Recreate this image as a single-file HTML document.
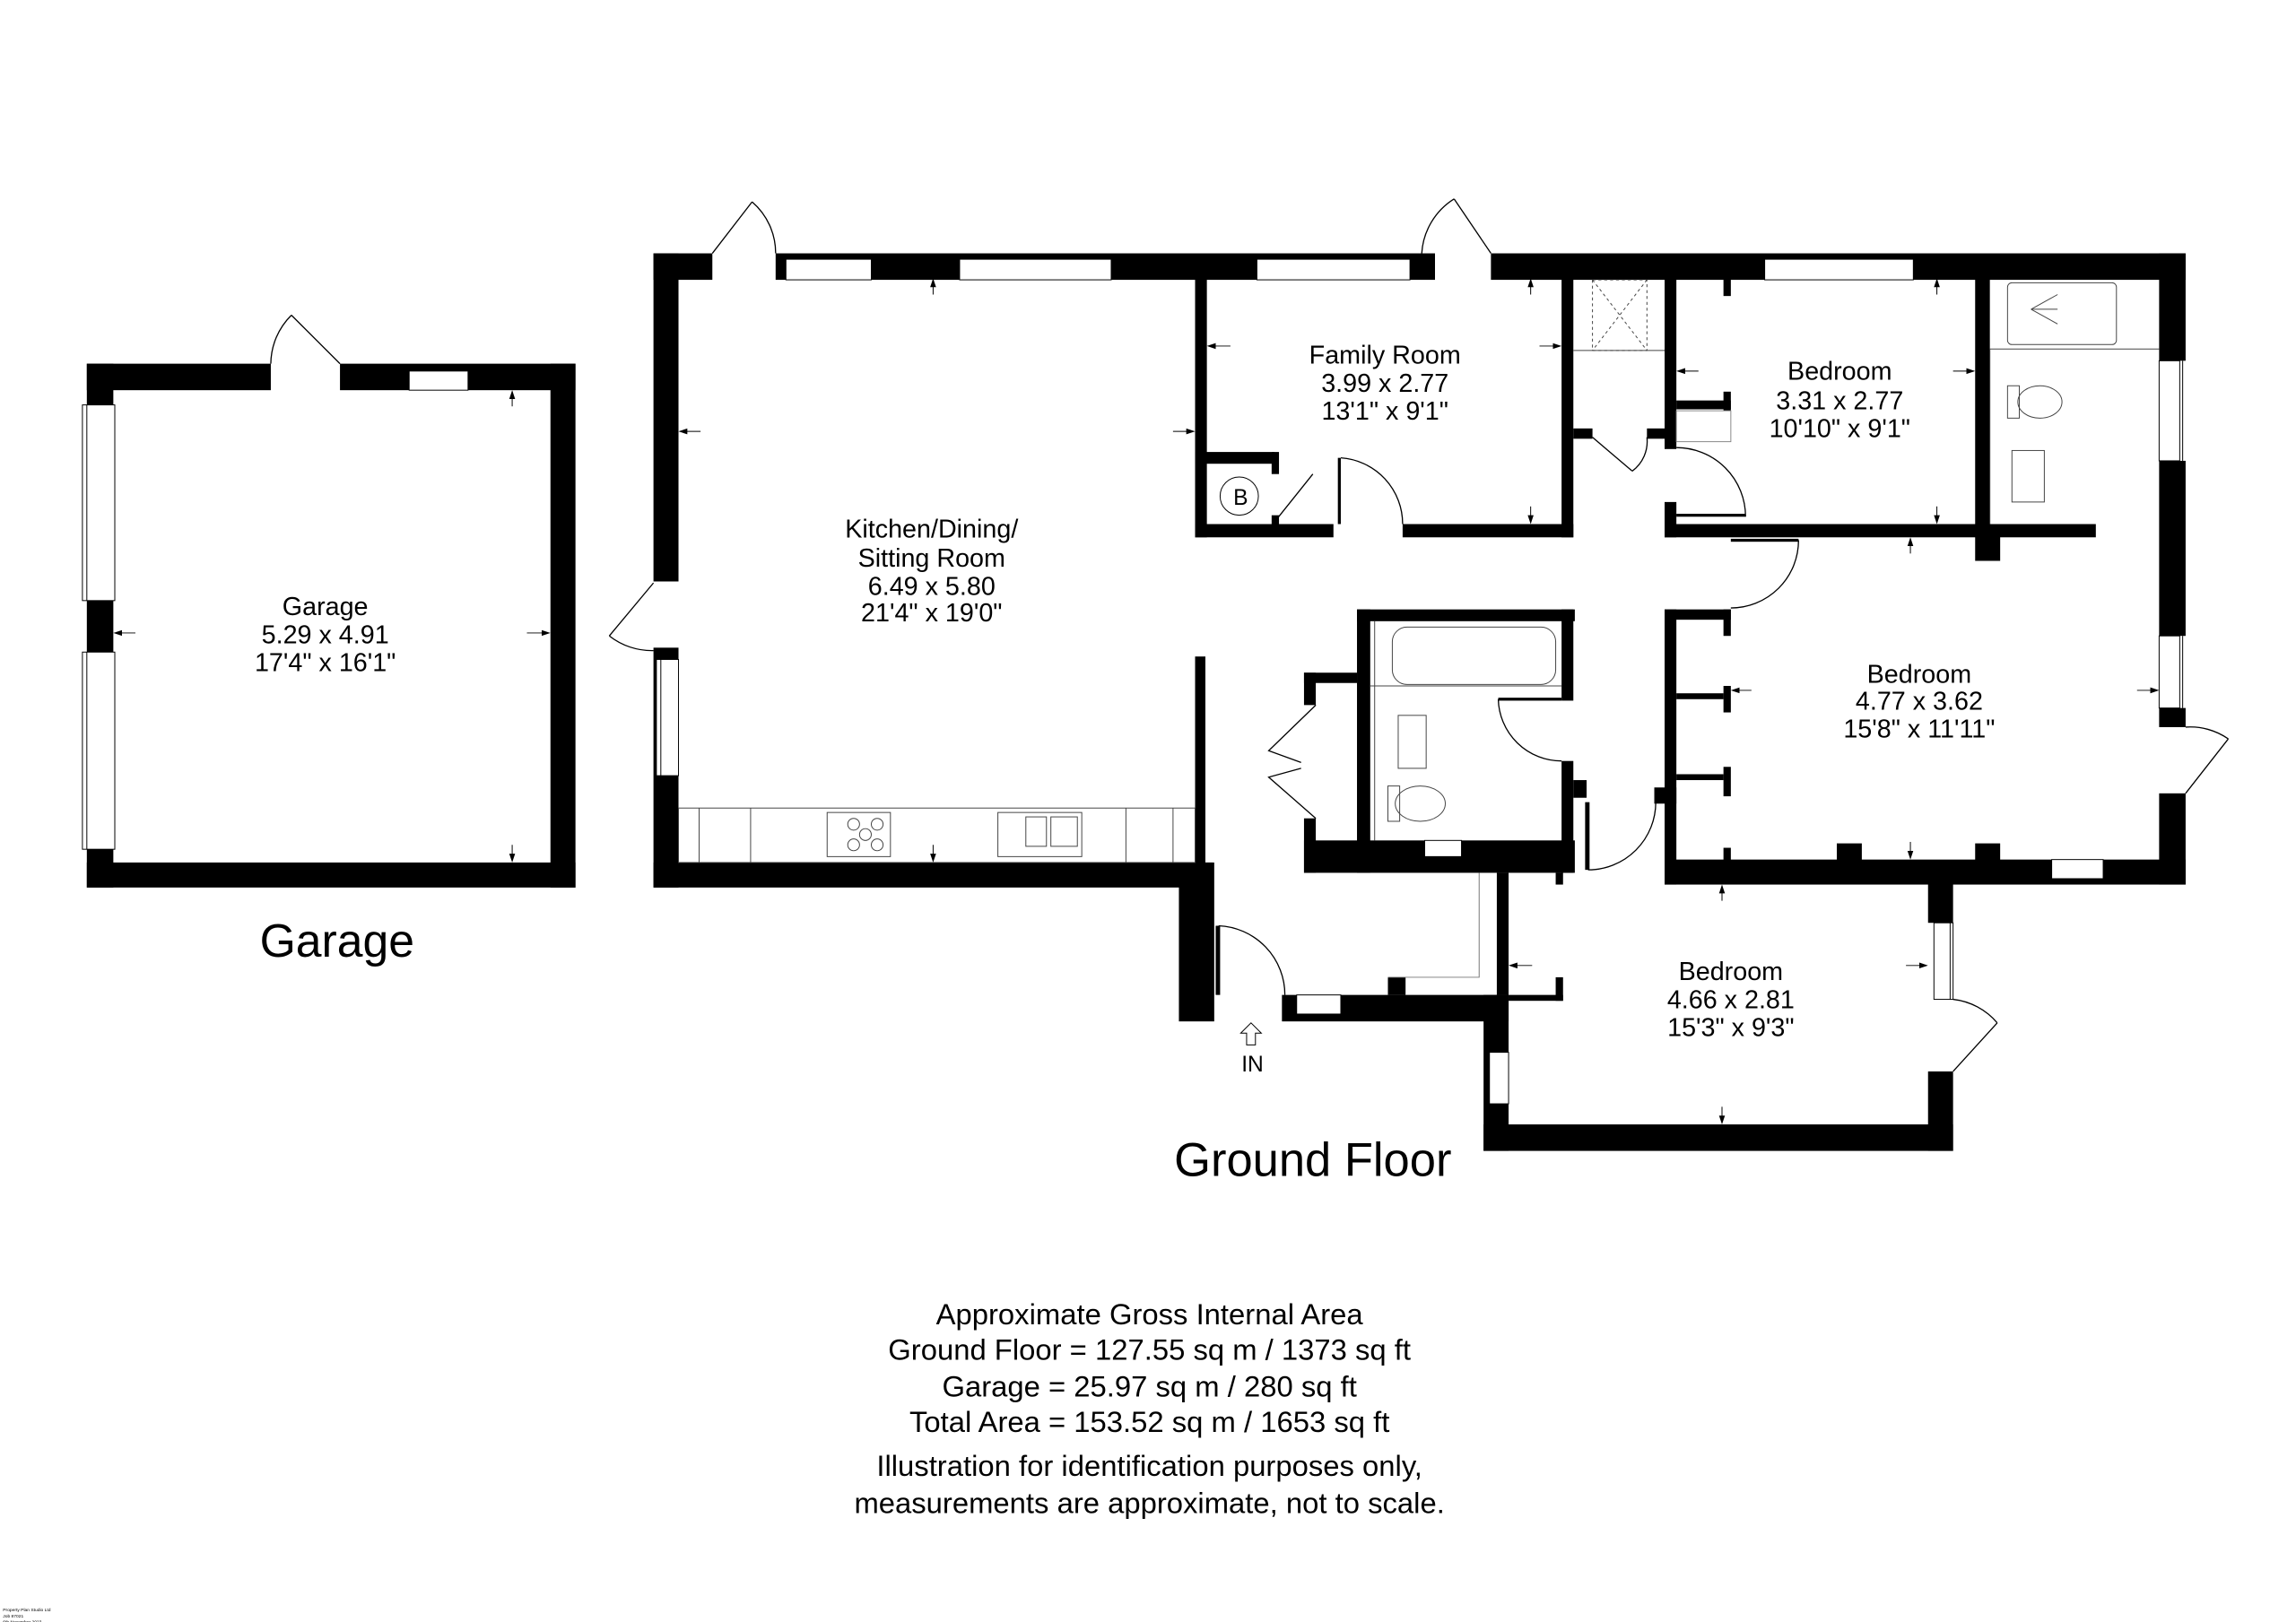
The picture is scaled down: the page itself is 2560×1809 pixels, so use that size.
<!DOCTYPE html>
<html><head><meta charset="utf-8">
<style>
html,body{margin:0;padding:0;background:#fff;}
svg{display:block;}
text{font-family:"Liberation Sans Narrow","Liberation Sans",sans-serif;fill:#000;}
.big{font-family:"Liberation Sans",sans-serif;}
</style></head>
<body>
<svg width="2560" height="1809" viewBox="0 0 1560 1102" xmlns="http://www.w3.org/2000/svg">
<rect x="0" y="0" width="1560" height="1102" fill="#fff"/>
<defs>
<marker id="ar" markerWidth="6" markerHeight="6" refX="5" refY="3" orient="auto" markerUnits="userSpaceOnUse"><path d="M0,1 L6,3 L0,5 z" fill="#000"/></marker>
</defs>
<g fill="#000">
<rect x="59" y="247" width="125" height="18"/>
<rect x="231" y="247" width="160" height="18"/>
<rect x="59" y="247" width="18" height="356"/>
<rect x="374" y="247" width="17" height="356"/>
<rect x="59" y="586" width="332" height="17"/>
<rect x="444" y="172" width="40" height="18"/>
<rect x="527" y="172" width="448" height="18"/>
<rect x="1013" y="172" width="472" height="18"/>
<rect x="444" y="172" width="17" height="223"/>
<rect x="444" y="440" width="17" height="163"/>
<rect x="444" y="586" width="380" height="17"/>
<rect x="801" y="586" width="24" height="108"/>
<rect x="812" y="189" width="8" height="176"/>
<rect x="812" y="446" width="7" height="160"/>
<rect x="1061" y="189" width="8" height="176"/>
<rect x="812" y="356" width="94" height="9"/>
<rect x="953" y="356" width="116" height="9"/>
<rect x="812" y="307" width="54" height="8"/>
<rect x="864" y="307" width="5" height="15"/>
<rect x="864" y="350" width="5" height="10"/>
<rect x="1069" y="291" width="13" height="7"/>
<rect x="1131" y="189" width="8" height="116"/>
<rect x="1119" y="291" width="20" height="7"/>
<rect x="1131" y="341" width="8" height="24"/>
<rect x="1131" y="356" width="293" height="9"/>
<rect x="1342" y="356" width="17" height="25"/>
<rect x="1342" y="189" width="10" height="176"/>
<rect x="1171" y="189" width="5" height="12"/>
<rect x="1139" y="272" width="37" height="6"/>
<rect x="1171" y="266" width="5" height="13"/>
<rect x="1467" y="172" width="18" height="73"/>
<rect x="1467" y="313" width="18" height="119"/>
<rect x="1467" y="481" width="18" height="13"/>
<rect x="1467" y="539" width="18" height="62"/>
<rect x="1131" y="414" width="8" height="187"/>
<rect x="1131" y="414" width="45" height="7"/>
<rect x="1171" y="414" width="5" height="18"/>
<rect x="1139" y="471" width="32" height="4"/>
<rect x="1171" y="466" width="5" height="18"/>
<rect x="1139" y="526" width="32" height="4"/>
<rect x="1171" y="521" width="5" height="20"/>
<rect x="1131" y="584" width="354" height="17"/>
<rect x="1171" y="576" width="5" height="9"/>
<rect x="1248" y="573" width="17" height="12"/>
<rect x="1342" y="573" width="17" height="12"/>
<rect x="1124" y="535" width="15" height="11"/>
<rect x="922" y="414" width="148" height="8"/>
<rect x="922" y="414" width="9" height="179"/>
<rect x="1061" y="414" width="8" height="62"/>
<rect x="1061" y="517" width="8" height="76"/>
<rect x="1069" y="530" width="9" height="12"/>
<rect x="886" y="571" width="184" height="22"/>
<rect x="1057" y="593" width="5" height="8"/>
<rect x="886" y="457" width="36" height="7"/>
<rect x="886" y="457" width="8" height="22"/>
<rect x="886" y="556" width="8" height="37"/>
<rect x="871" y="676" width="154" height="18"/>
<rect x="943" y="664" width="12" height="12"/>
<rect x="1017" y="593" width="8" height="83"/>
<rect x="1008" y="676" width="17" height="106"/>
<rect x="1008" y="764" width="319" height="18"/>
<rect x="1310" y="593" width="17" height="34"/>
<rect x="1310" y="728" width="17" height="54"/>
<rect x="1025" y="676" width="37" height="4"/>
<rect x="1057" y="664" width="5" height="16"/>
</g>
<g fill="#fff" stroke="#000" stroke-width="0.6">
<rect x="56" y="275" width="22" height="133"/><line x1="59" y1="275" x2="59" y2="408"/>
<rect x="56" y="443" width="22" height="134"/><line x1="59" y1="443" x2="59" y2="577"/>
<rect x="278" y="252" width="40" height="13"/><line x1="278" y1="250" x2="318" y2="250"/>
<rect x="446" y="448" width="15" height="79"/><line x1="449" y1="448" x2="449" y2="527"/>
<rect x="534" y="176" width="58" height="14"/><line x1="534" y1="174" x2="592" y2="174"/>
<rect x="652" y="176" width="103" height="14"/><line x1="652" y1="174" x2="755" y2="174"/>
<rect x="854" y="176" width="104" height="14"/><line x1="854" y1="174" x2="958" y2="174"/>
<rect x="1199" y="176" width="101" height="14"/><line x1="1199" y1="174" x2="1300" y2="174"/>
<rect x="1467" y="245" width="14" height="68"/><line x1="1483" y1="245" x2="1483" y2="313"/>
<rect x="1467" y="432" width="14" height="49"/><line x1="1483" y1="432" x2="1483" y2="481"/>
<rect x="1394" y="584" width="35" height="13"/><line x1="1394" y1="599" x2="1429" y2="599"/>
<rect x="968" y="571" width="25" height="11"/>
<rect x="881" y="676" width="30" height="13"/><line x1="881" y1="691" x2="911" y2="691"/>
<rect x="1012" y="715" width="13" height="35"/><line x1="1010" y1="715" x2="1010" y2="750"/>
<rect x="1314" y="627" width="13" height="52"/><line x1="1325" y1="627" x2="1325" y2="679"/>
</g>
<g fill="none" stroke="#000" stroke-width="0.8">
<line x1="231" y1="247" x2="198" y2="214"/><path d="M184,247 A47,47 0 0 1 198,214"/>
<line x1="484" y1="172" x2="511" y2="137"/><path d="M511,137 A46,46 0 0 1 527,172"/>
<line x1="1013" y1="172" x2="988" y2="135"/><path d="M988,135 A47,47 0 0 0 966,172"/>
<line x1="444" y1="396" x2="414" y2="432"/><path d="M414,432 A47,47 0 0 0 444,442"/>
<path d="M868,352 L892,322"/>
<path d="M911,311 A45,45 0 0 1 953,356"/>
<path d="M1082,297 L1109,320"/><path d="M1109,320 A25,25 0 0 0 1119,297"/>
<path d="M1186,351 A47,47 0 0 0 1139,304"/>
<path d="M1222,367 A46,46 0 0 1 1176,413"/>
<line x1="1485" y1="539" x2="1514" y2="502"/><path d="M1514,502 A45,45 0 0 0 1485,494"/>
<path d="M1018,475 A43,43 0 0 0 1061,517"/>
<path d="M1079,591 A46,46 0 0 0 1125,545"/>
<path d="M828,629 A47,47 0 0 1 873,676"/>
<line x1="1327" y1="728" x2="1357" y2="695"/><path d="M1357,695 A46,46 0 0 0 1327,679"/>
<polyline points="894,479 862,510 884,518"/>
<polyline points="884,522 862,528 894,556"/>
<polyline points="943,664 1005,664 1005,593" stroke="#777" stroke-width="0.6"/>
</g>
<g fill="#000">
<rect x="1139" y="349" width="47" height="2"/>
<rect x="1176" y="366" width="46" height="2"/>
<rect x="1018" y="474" width="43" height="2"/>
<rect x="1077" y="545" width="3" height="46"/>
<rect x="826" y="629" width="3" height="47"/>
<rect x="909" y="311" width="2" height="45"/>
</g>
<g fill="none" stroke="#444" stroke-width="0.6">
<rect x="461" y="549" width="351" height="37"/>
<line x1="475" y1="549" x2="475" y2="586"/><line x1="510" y1="549" x2="510" y2="586"/>
<line x1="765" y1="549" x2="765" y2="586"/><line x1="797" y1="549" x2="797" y2="586"/>
<rect x="562" y="552" width="43" height="30"/>
<circle cx="580" cy="560" r="4"/><circle cx="596" cy="560" r="4"/><circle cx="588" cy="567" r="4"/><circle cx="580" cy="574" r="4"/><circle cx="596" cy="574" r="4"/>
<rect x="678" y="552" width="57" height="30"/><rect x="697" y="555" width="14" height="20"/><rect x="714" y="555" width="18" height="20"/>
<rect x="1139" y="279" width="37" height="21" stroke="#888"/>
<rect x="1082" y="190" width="37" height="48" stroke-dasharray="2,2"/>
<line x1="1082" y1="190" x2="1119" y2="238" stroke-dasharray="2,2"/><line x1="1119" y1="190" x2="1082" y2="238" stroke-dasharray="2,2"/>
<line x1="1069" y1="238" x2="1131" y2="238"/>
<rect x="1364" y="192" width="74" height="42" rx="3"/>
<line x1="1380" y1="210" x2="1398" y2="200"/><line x1="1380" y1="210" x2="1398" y2="210"/><line x1="1380" y1="210" x2="1398" y2="220"/>
<line x1="1352" y1="237" x2="1467" y2="237"/><line x1="1352" y1="237" x2="1352" y2="356"/>
<rect x="1364" y="262" width="8" height="22"/><ellipse cx="1386" cy="273" rx="15" ry="11"/>
<rect x="1367" y="306" width="22" height="35"/>
<rect x="946" y="426" width="111" height="39" rx="10"/>
<rect x="950" y="486" width="19" height="36"/>
<rect x="943" y="534" width="8" height="24"/><ellipse cx="965" cy="546" rx="17" ry="12"/>
<line x1="931" y1="466" x2="1061" y2="466"/><line x1="934" y1="422" x2="934" y2="571"/>
<circle cx="842" cy="337" r="13" stroke="#000"/>
<path d="M847,705 L847,697 L843,697 L850,690 L857,697 L853,697 L853,705 Z" stroke="#000" transform="translate(0,5)"/>
</g>
<g stroke="#000" stroke-width="0.6" marker-end="url(#ar)">
<line x1="92" y1="430" x2="78" y2="430"/><line x1="358" y1="430" x2="373" y2="430"/>
<line x1="348" y1="276" x2="348" y2="266"/><line x1="348" y1="574" x2="348" y2="585"/>
<line x1="476" y1="293" x2="462" y2="293"/><line x1="797" y1="293" x2="811" y2="293"/>
<line x1="634" y1="200" x2="634" y2="190"/><line x1="634" y1="574" x2="634" y2="585"/>
<line x1="836" y1="235" x2="821" y2="235"/><line x1="1046" y1="235" x2="1060" y2="235"/>
<line x1="1040" y1="200" x2="1040" y2="190"/><line x1="1040" y1="344" x2="1040" y2="355"/>
<line x1="1154" y1="252" x2="1140" y2="252"/><line x1="1327" y1="252" x2="1341" y2="252"/>
<line x1="1316" y1="200" x2="1316" y2="190"/><line x1="1316" y1="344" x2="1316" y2="355"/>
<line x1="1298" y1="376" x2="1298" y2="366"/><line x1="1298" y1="572" x2="1298" y2="583"/>
<line x1="1190" y1="469" x2="1177" y2="469"/><line x1="1452" y1="469" x2="1466" y2="469"/>
<line x1="1041" y1="656" x2="1026" y2="656"/><line x1="1295" y1="656" x2="1309" y2="656"/>
<line x1="1170" y1="612" x2="1170" y2="602"/><line x1="1170" y1="752" x2="1170" y2="763"/>
</g>
<g font-size="17.5" text-anchor="middle">
<text x="221" y="418">Garage</text><text x="221" y="437">5.29 x 4.91</text><text x="221" y="456">17'4" x 16'1"</text>
<text x="633" y="365">Kitchen/Dining/</text><text x="633" y="385">Sitting Room</text><text x="633" y="404">6.49 x 5.80</text><text x="633" y="422">21'4" x 19'0"</text>
<text x="941" y="247">Family Room</text><text x="941" y="266">3.99 x 2.77</text><text x="941" y="285">13'1" x 9'1"</text>
<text x="1250" y="258">Bedroom</text><text x="1250" y="278">3.31 x 2.77</text><text x="1250" y="297">10'10" x 9'1"</text>
<text x="1304" y="464">Bedroom</text><text x="1304" y="482">4.77 x 3.62</text><text x="1304" y="501">15'8" x 11'11"</text>
<text x="1176" y="666">Bedroom</text><text x="1176" y="685">4.66 x 2.81</text><text x="1176" y="704">15'3" x 9'3"</text>
<text x="843" y="343" font-size="15">B</text>
<text x="851" y="728" font-size="15">IN</text>
</g>
<text class="big" x="229" y="650" font-size="31.5" text-anchor="middle">Garage</text>
<text class="big" x="892" y="799" font-size="32" text-anchor="middle">Ground Floor</text>
<g font-size="20" text-anchor="middle">
<text x="781" y="900">Approximate Gross Internal Area</text>
<text x="781" y="924">Ground Floor = 127.55 sq m / 1373 sq ft</text>
<text x="781" y="949">Garage = 25.97 sq m / 280 sq ft</text>
<text x="781" y="973">Total Area = 153.52 sq m / 1653 sq ft</text>
<text x="781" y="1003">Illustration for identification purposes only,</text>
<text x="781" y="1028">measurements are approximate, not to scale.</text>
</g>
<g font-size="3" fill="#555">
<text x="2" y="1095">Property Plan Studio Ltd</text>
<text x="2" y="1099">Job 87021</text>
<text x="2" y="1103">6th November 2023</text>
</g>
</svg>
</body></html>
